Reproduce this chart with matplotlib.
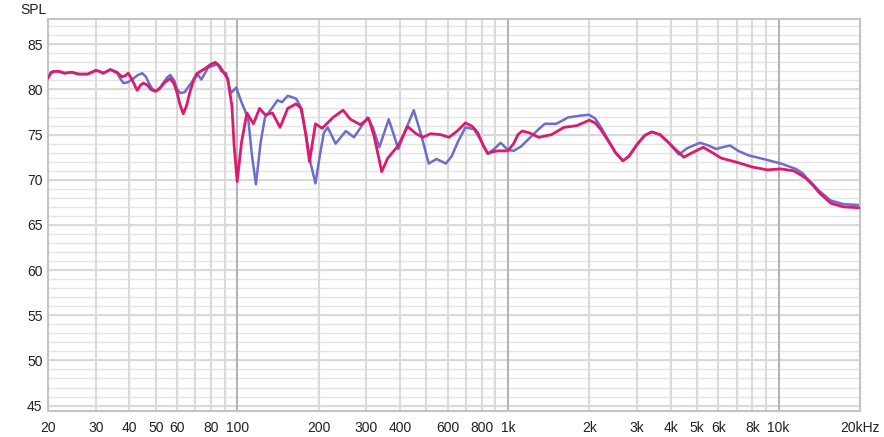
import numpy as np
import matplotlib
matplotlib.use('Agg')
import matplotlib.pyplot as plt

plt.rcParams['font.family'] = ['Liberation Sans', 'DejaVu Sans']

# Frequency response (Hz, dB)
red_freq = [20, 20.5, 21, 22, 23, 24.5, 26, 28, 29, 30, 31, 32, 34, 36, 37.5, 38.5, 39.6, 41, 42.7,
            44, 45, 46.5, 48, 49.8, 52, 54, 56.6, 58.5, 60, 61.5, 63.2, 65, 67, 69, 71.3, 76, 80, 83,
            86, 88.6, 92.2, 95.6, 97.4, 100, 103.7, 108.6, 114.8, 121, 126.7, 135, 144, 153.7, 164.8,
            172.6, 178.9, 185, 194.6, 206, 226, 246, 262, 285, 306, 320, 332, 342, 360, 394, 426,
            458, 485, 518, 564, 606, 650, 697, 740, 775, 810, 843, 880, 919, 1000, 1050, 1090, 1130,
            1200, 1300, 1450, 1610, 1800, 2000, 2100, 2200, 2350, 2500, 2660, 2800, 3000, 3200, 3400,
            3650, 3900, 4150, 4470, 4800, 5270, 5700, 6140, 7080, 8030, 9100, 10200, 11350, 12000,
            12700, 13400, 14100, 15600, 17400, 20000]
red_db = [81.3, 81.8, 82.0, 82.0, 81.8, 81.9, 81.7, 81.7, 81.9, 82.1, 82.0, 81.8, 82.2, 81.9, 81.4,
          81.5, 81.8, 81.0, 79.9, 80.5, 80.7, 80.5, 80.0, 79.8, 80.2, 80.8, 81.2, 80.6, 79.6, 78.3,
          77.3, 78.2, 79.8, 81.0, 81.8, 82.3, 82.8, 83.0, 82.6, 82.0, 81.2, 78.2, 73.8, 69.8, 74.1,
          77.4, 76.2, 77.9, 77.2, 77.4, 75.8, 77.9, 78.4, 77.9, 75.2, 72.0, 76.2, 75.7, 76.9, 77.7,
          76.7, 76.1, 76.8, 74.9, 72.7, 70.9, 72.4, 73.8, 75.9, 75.1, 74.7, 75.1, 75.0, 74.7, 75.4,
          76.3, 75.9, 75.2, 73.8, 72.9, 73.1, 73.2, 73.2, 74.0, 75.0, 75.4, 75.2, 74.7, 75.0, 75.8,
          76.0, 76.6, 76.3, 75.6, 74.3, 73.0, 72.1, 72.6, 73.9, 74.9, 75.3, 75.0, 74.2, 73.4, 72.5,
          73.0, 73.6, 73.0, 72.4, 71.9, 71.4, 71.1, 71.2, 71.0, 70.6, 70.1, 69.4, 68.6, 67.4, 67.0,
          66.9]

blue_freq = [20, 20.5, 21, 22, 23, 24.5, 26, 28, 29, 30, 31, 32, 34, 36, 37, 38, 39.5, 41.3, 43,
             44.6, 46, 47, 48.5, 50, 51.5, 53, 55, 56.6, 58.5, 60, 61.6, 64, 66, 68, 71, 73.7, 76,
             78, 84.5, 87.5, 91, 94.7, 99.2, 103.7, 109.8, 113.4, 117.3, 122, 126.7, 135, 140.8,
             146.4, 153.7, 164.8, 171, 178.9, 186.5, 194.6, 202, 209, 216, 231, 252, 270, 303, 317,
             335, 363, 394, 420, 449, 476, 510, 545, 590, 620, 656, 697, 750, 800, 843, 890, 940,
             1000, 1050, 1120, 1220, 1300, 1370, 1510, 1670, 1850, 1990, 2100, 2200, 2350, 2500,
             2660, 2800, 3000, 3200, 3400, 3650, 3900, 4280, 4600, 5130, 5500, 5880, 6200, 6620,
             7100, 7750, 8800, 10200, 11600, 12300, 12700, 13400, 14100, 15600, 17400, 20000]
blue_db = [81.5, 81.9, 82.0, 82.0, 81.8, 81.9, 81.7, 81.7, 81.9, 82.1, 82.0, 81.8, 82.2, 81.8, 81.2,
           80.7, 80.8, 81.2, 81.6, 81.8, 81.4, 80.8, 80.1, 79.8, 80.0, 80.6, 81.3, 81.6, 81.0, 80.0,
           79.6, 79.7, 80.3, 80.8, 81.8, 81.1, 81.8, 82.4, 82.8, 82.0, 81.8, 79.6, 80.2, 78.6, 76.8,
           72.7, 69.5, 74.1, 76.9, 78.0, 78.8, 78.6, 79.3, 79.0, 78.2, 75.2, 71.9, 69.6, 72.7, 75.2,
           75.8, 74.0, 75.4, 74.7, 76.9, 75.8, 73.6, 76.7, 73.4, 75.6, 77.7, 75.2, 71.8, 72.3, 71.8,
           72.6, 74.3, 75.8, 75.6, 74.2, 72.9, 73.4, 74.1, 73.3, 73.2, 73.7, 74.8, 75.6, 76.2, 76.2,
           76.9, 77.1, 77.2, 76.8, 75.9, 74.4, 73.0, 72.1, 72.6, 73.9, 74.9, 75.3, 75.0, 74.2, 72.8,
           73.5, 74.1, 73.8, 73.4, 73.6, 73.8, 73.2, 72.7, 72.3, 71.8, 71.2, 70.7, 70.2, 69.5, 68.8,
           67.7, 67.3, 67.2]

major_ticks = [20, 30, 40, 50, 60, 80, 100, 200, 300, 400, 600, 800, 1000, 2000, 3000, 4000, 5000,
               6000, 8000, 10000, 20000]
major_labels = ['20', '30', '40', '50', '60', '80', '100', '200', '300', '400', '600', '800', '1k',
                '2k', '3k', '4k', '5k', '6k', '8k', '10k', '20kHz']
y_ticks = [45, 50, 55, 60, 65, 70, 75, 80, 85]

fig = plt.figure(figsize=(8.84, 4.37), dpi=100)
ax = fig.add_axes([48 / 884, 1 - 411 / 437, 812 / 884, 392 / 437])

ax.set_xscale('log')
ax.set_xlim(20, 20000)
ax.set_ylim(44.4, 87.8)

# grid
for v in np.arange(45, 88, 1):
    ax.axhline(v, color='#e4e4e4', lw=1.0, zorder=0)
for v in y_ticks:
    ax.axhline(v, color='#d6d6d6', lw=1.2, zorder=0)
for dec in [10, 100, 1000, 10000]:
    for m in range(1, 10):
        f = dec * m
        if f < 20 or f > 20000:
            continue
        if m == 1:
            ax.axvline(f, color='#b4b4b4', lw=1.5, zorder=0)
        else:
            ax.axvline(f, color='#dadada', lw=1.5, zorder=0)

ax.plot(blue_freq, blue_db, color='#6d6dcc', lw=1.8, zorder=2, solid_joinstyle='round')
ax.plot(red_freq, red_db, color='#dc1a6e', lw=2.0, zorder=3, solid_joinstyle='round')

ax.set_xticks(major_ticks)
ax.set_xticklabels(major_labels)
ax.xaxis.set_minor_locator(matplotlib.ticker.NullLocator())
ax.set_yticks(y_ticks)
ax.tick_params(axis='both', length=0, labelsize=10, colors='#222222')
ax.tick_params(axis='x', pad=7)
ax.tick_params(axis='y', pad=4)

for s in ax.spines.values():
    s.set_color('#c4c4c4')
    s.set_linewidth(1.5)

fig.text(33 / 884, 1 - 10 / 437, 'SPL', ha='center', va='center', fontsize=10, color='#222222')

fig.savefig('out.png', dpi=100)
